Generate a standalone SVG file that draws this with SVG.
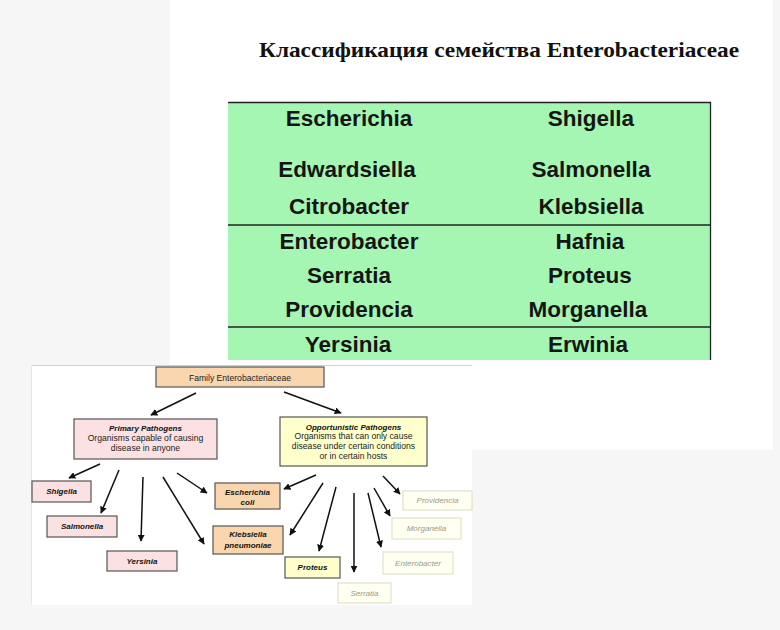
<svg xmlns="http://www.w3.org/2000/svg" width="780" height="630" viewBox="0 0 780 630">
<defs>
<marker id="ah" viewBox="0 0 10 10" refX="9" refY="5" markerWidth="7" markerHeight="7" markerUnits="userSpaceOnUse" orient="auto">
<path d="M0,0 L10,5 L0,10 z" fill="#111"/>
</marker>
<style>
.title{font-family:"Liberation Serif",serif;font-weight:bold;font-size:22px;fill:#111}
.cell{font-family:"Liberation Sans",Arial,sans-serif;font-weight:bold;font-size:22.5px;fill:#151515;text-anchor:middle}
.tline{stroke:#222;stroke-width:1.3}
.box{stroke:#555;stroke-width:1.2}
.peach{fill:#f9d6ae}
.pink{fill:#fbe1e1}
.yellow{fill:#ffffcc}
.faint{fill:#fffff2;stroke:#dcdcc0;stroke-width:1}
.lbl{font-family:"Liberation Sans",Arial,sans-serif;font-size:8px;fill:#111;text-anchor:middle}
.bi{font-weight:bold;font-style:italic}
.fl{font-family:"Liberation Sans",Arial,sans-serif;font-size:8px;font-style:italic;fill:#9a9a8a;text-anchor:middle}
.desc{font-family:"Liberation Sans",Arial,sans-serif;font-size:8.6px;fill:#222;text-anchor:middle}
.arr{stroke:#111;stroke-width:1.5;fill:none;marker-end:url(#ah)}
</style>
</defs>
<rect x="0" y="0" width="780" height="630" fill="#f6f6f6"/>
<rect x="170" y="0" width="603" height="450" fill="#ffffff"/>
<text class="title" x="259" y="57" textLength="480" lengthAdjust="spacingAndGlyphs">Классификация семейства Enterobacteriaceae</text>

<g id="table">
<rect x="228" y="102" width="483" height="258" fill="#a6f6b3"/>
<line class="tline" x1="228" y1="102.5" x2="711" y2="102.5"/>
<line class="tline" x1="710.5" y1="102" x2="710.5" y2="360"/>
<line class="tline" x1="228" y1="225" x2="711" y2="225"/>
<line class="tline" x1="228" y1="327" x2="711" y2="327"/>
<text class="cell" x="349" y="126">Escherichia</text>
<text class="cell" x="591" y="126">Shigella</text>
<text class="cell" x="347" y="177">Edwardsiella</text>
<text class="cell" x="591" y="177">Salmonella</text>
<text class="cell" x="349" y="214">Citrobacter</text>
<text class="cell" x="591" y="214">Klebsiella</text>
<text class="cell" x="349" y="249">Enterobacter</text>
<text class="cell" x="590" y="249">Hafnia</text>
<text class="cell" x="349" y="283">Serratia</text>
<text class="cell" x="590" y="283">Proteus</text>
<text class="cell" x="349" y="317">Providencia</text>
<text class="cell" x="588" y="317">Morganella</text>
<text class="cell" x="348" y="352">Yersinia</text>
<text class="cell" x="588" y="352">Erwinia</text>
</g>

<rect x="31" y="365" width="441" height="240" fill="#ffffff"/>
<line x1="31" y1="365.5" x2="472" y2="365.5" stroke="#cfcfcf" stroke-width="1"/>
<line x1="31.5" y1="365" x2="31.5" y2="605" stroke="#e6e6e6" stroke-width="1"/>

<g id="connectors">
<line class="arr" x1="196" y1="393" x2="151" y2="415"/>
<line class="arr" x1="284" y1="392" x2="341" y2="413"/>
<line class="arr" x1="100" y1="464" x2="69" y2="478"/>
<line class="arr" x1="119" y1="470" x2="101" y2="513"/>
<line class="arr" x1="143" y1="477" x2="141" y2="541"/>
<line class="arr" x1="163" y1="477" x2="204" y2="544"/>
<line class="arr" x1="177" y1="473" x2="207" y2="493"/>
<line class="arr" x1="316" y1="475" x2="284" y2="489"/>
<line class="arr" x1="323" y1="483" x2="290" y2="535"/>
<line class="arr" x1="336" y1="487" x2="319" y2="551"/>
<line class="arr" x1="354" y1="493" x2="354" y2="572"/>
<line class="arr" x1="368" y1="493" x2="381" y2="547"/>
<line class="arr" x1="374" y1="488" x2="390" y2="516"/>
<line class="arr" x1="383" y1="476" x2="400" y2="494"/>
</g>

<g id="family">
<rect class="box peach" x="156" y="367" width="168" height="20"/>
<text class="desc" x="240" y="381" font-size="9.5">Family Enterobacteriaceae</text>
</g>
<g id="primary">
<rect class="box pink" x="74" y="419" width="143" height="40"/>
<text class="lbl bi" x="145.5" y="431">Primary Pathogens</text>
<text class="desc" x="145.5" y="441">Organisms capable of causing</text>
<text class="desc" x="145.5" y="451">disease in anyone</text>
</g>
<g id="opportunistic">
<rect class="box yellow" x="280" y="417" width="147" height="49"/>
<text class="lbl bi" x="353.5" y="430">Opportunistic Pathogens</text>
<text class="desc" x="353.5" y="439">Organisms that can only cause</text>
<text class="desc" x="353.5" y="449">disease under certain conditions</text>
<text class="desc" x="353.5" y="459">or in certain hosts</text>
</g>
<g id="shigella">
<rect class="box pink" x="32" y="481" width="59" height="21"/>
<text class="lbl bi" x="61.5" y="494">Shigella</text>
</g>
<g id="salmonella">
<rect class="box pink" x="47" y="516" width="70" height="21"/>
<text class="lbl bi" x="82" y="529">Salmonella</text>
</g>
<g id="yersinia">
<rect class="box pink" x="107" y="551" width="70" height="20"/>
<text class="lbl bi" x="142" y="564">Yersinia</text>
</g>
<g id="ecoli">
<rect class="box peach" x="215" y="483" width="65" height="26"/>
<text class="lbl bi" x="247.5" y="495">Escherichia</text>
<text class="lbl bi" x="247.5" y="505">coli</text>
</g>
<g id="klebsiella">
<rect class="box peach" x="213" y="526" width="70" height="28"/>
<text class="lbl bi" x="248" y="537">Klebsiella</text>
<text class="lbl bi" x="248" y="548">pneumoniae</text>
</g>
<g id="proteus">
<rect class="box yellow" x="285" y="557" width="55" height="21"/>
<text class="lbl bi" x="312.5" y="570">Proteus</text>
</g>
<g id="serratia">
<rect class="faint" x="338" y="583" width="53" height="20"/>
<text class="fl" x="364.5" y="596">Serratia</text>
</g>
<g id="providencia">
<rect class="faint" x="403" y="491" width="69" height="19"/>
<text class="fl" x="437.5" y="503">Providencia</text>
</g>
<g id="morganella">
<rect class="faint" x="392" y="518" width="69" height="21"/>
<text class="fl" x="426.5" y="531">Morganella</text>
</g>
<g id="enterobacter">
<rect class="faint" x="383" y="552" width="70" height="22"/>
<text class="fl" x="418" y="566">Enterobacter</text>
</g>
</svg>
